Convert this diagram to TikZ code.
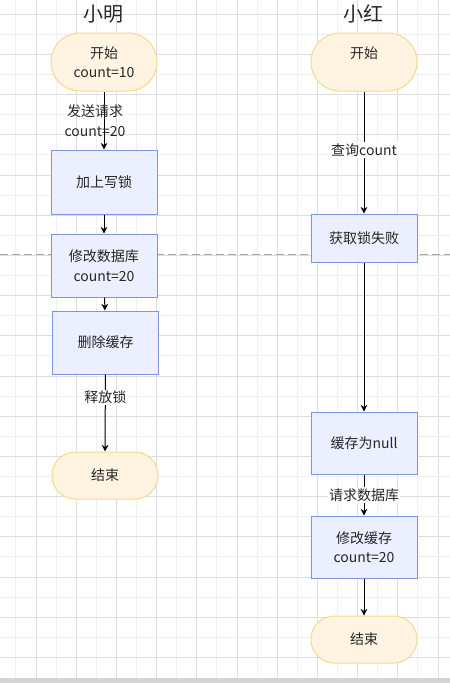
\documentclass[tikz,border=0pt]{standalone}
\usepackage{fontspec}
\newfontfamily\cjk{Noto Sans CJK SC}
\usetikzlibrary{arrows.meta}

\definecolor{gridmajor}{HTML}{DDDDDD}
\definecolor{gridminor}{HTML}{F0F0F0}
\definecolor{termfill}{HTML}{FFF4E2}
\definecolor{termline}{HTML}{F6D98E}
\definecolor{procfill}{HTML}{ECEFFD}
\definecolor{procline}{HTML}{8193E0}

\begin{document}
\begin{tikzpicture}[x=0.75pt,y=-0.75pt,
    txt/.style={font=\cjk\fontsize{10.5}{14.6}\selectfont, align=center, text=black!85},
    term/.style={txt, draw=termline, fill=termfill, line width=0.75pt, minimum width=79.5pt},
    proc/.style={txt, draw=procline, fill=procfill, line width=0.75pt, minimum width=79.5pt},
    flow/.style={line width=0.75pt, -{Stealth[length=5pt,width=5pt]}},
    lbl/.style={txt, fill=white, inner sep=1pt},
    title/.style={font=\cjk\fontsize{15}{18}\selectfont, text=black!85}]
            \useasboundingbox (0,0) rectangle (450,683);

            % grid
            \foreach \j in {0,...,10} {
                \draw[gridminor] (15.7+40.2*\j,0) -- (15.7+40.2*\j,677.7);
                \draw[gridmajor] (35.8+40.2*\j,0) -- (35.8+40.2*\j,677.7);
            }
            \foreach \j in {0,...,15} \draw[gridminor] (0,34.1+40.2*\j) -- (450,34.1+40.2*\j);
            \foreach \j in {0,...,16} \draw[gridmajor] (0,14+40.2*\j) -- (450,14+40.2*\j);
            \fill[black!17] (0,677.7) rectangle (450,683);

            % divider
            \draw[black!35, line width=0.75pt, dash pattern=on 6pt off 3pt] (0,254.5) -- (450,254.5);

            % left column
            \node[title] (TA) at (104,14) {小明};
            \node[term, minimum height=43.5pt, rounded corners=21.5pt] (A1) at (104,62) {开始\\count=10};
            \node[proc, minimum height=48pt] (A2) at (104,182) {加上写锁};
            \node[proc, minimum height=47.25pt] (A3) at (104,265.5) {修改数据库\\count=20};
            \node[proc, minimum height=47.25pt] (A4) at (105.5,342.5) {删除缓存};
            \node[term, minimum height=35.25pt, rounded corners=17.4pt] (A5) at (105,475.5) {结束};

            % right column
            \node[title] (TB) at (363,14) {小红};
            \node[term, minimum height=43.5pt, rounded corners=21.5pt] (B1) at (364,62) {开始\\\phantom{count=10}};
            \node[proc, minimum height=36pt] (B2) at (364,238) {获取锁失败};
            \node[proc, minimum height=46.5pt] (B3) at (364,443) {缓存为null};
            \node[proc, minimum height=46.5pt] (B4) at (364,547) {修改缓存\\count=20};
            \node[term, minimum height=35.25pt, rounded corners=17.4pt] (B5) at (364,639.5) {结束};

            \draw[flow] (A1) -- node[txt, xshift=-6.75pt] {发送请求\\count=20} (A2);
            \draw[flow] (A2) -- (A3);
            \draw[flow] (A3) -- (A4);
            \draw[flow] (A4) -- node[lbl, pos=0.3] {释放锁} (A5);

            \draw[flow] (B1) -- node[lbl, pos=0.48] {查询count} (B2);
            \draw[flow] (B2) -- (B3);
            \draw[flow] (B3) -- node[lbl] {请求数据库} (B4);
            \draw[flow] (B4) -- (B5);
        \end{tikzpicture}
\end{document}
